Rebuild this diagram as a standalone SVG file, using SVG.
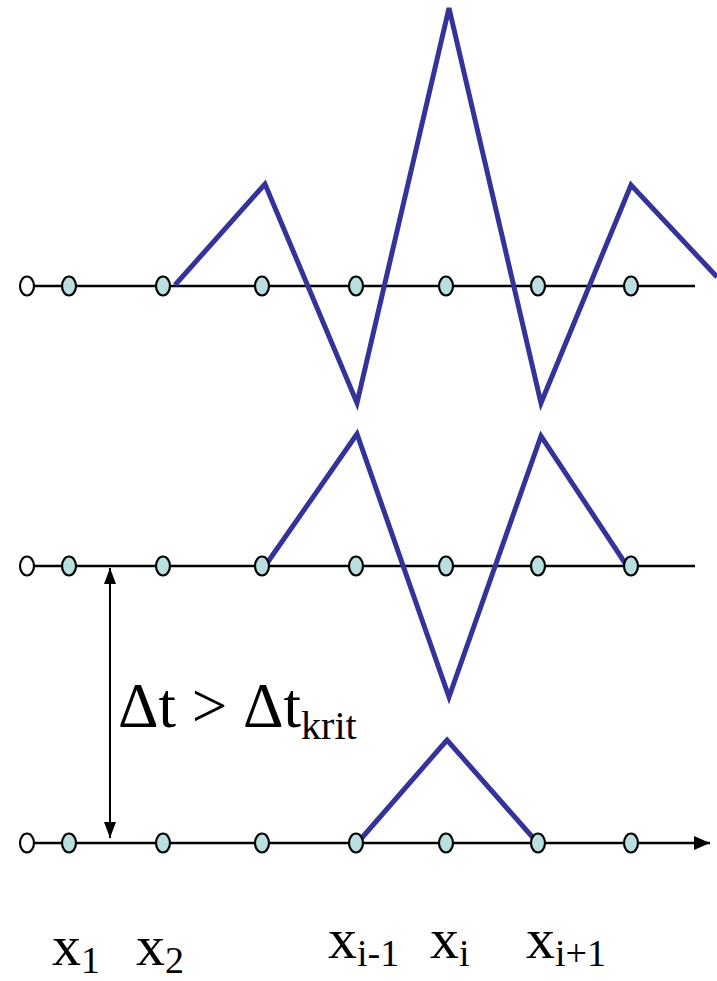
<svg xmlns="http://www.w3.org/2000/svg" width="717" height="981" viewBox="0 0 717 981">
<defs>
<style>
.axis{stroke:#000;stroke-width:2.5;fill:none}
.wave{stroke:#333399;stroke-width:5;fill:none;stroke-linejoin:miter}
.pt{fill:#b9dfe0;stroke:#000;stroke-width:2.2}
.pt0{fill:#fff;stroke:#000;stroke-width:2.2}
.serif{font-family:"Liberation Serif","Times New Roman",serif;fill:#000}
</style>
<marker id="ah" viewBox="0 0 16 12" refX="16" refY="6" markerWidth="16" markerHeight="12" markerUnits="userSpaceOnUse" orient="auto-start-reverse">
<path d="M0,0 L16,6 L0,12 z" fill="#000"/>
</marker>
<marker id="ahb" viewBox="0 0 16 14" refX="16" refY="7" markerWidth="16" markerHeight="14" markerUnits="userSpaceOnUse" orient="auto">
<path d="M0,0 L16,7 L0,14 z" fill="#000"/>
</marker>
</defs>
<g id="connectors">
<line class="axis" x1="27" y1="286" x2="695" y2="286"/>
<line class="axis" x1="27" y1="566" x2="695" y2="566"/>
<line class="axis" x1="27" y1="843" x2="710" y2="843" marker-end="url(#ahb)"/>
<line x1="110" y1="568" x2="110" y2="838" stroke="#000" stroke-width="2" marker-start="url(#ah)" marker-end="url(#ah)"/>
<polyline class="wave" points="175,285 265,184 357,403 449,8 541,403 631,185 717,277"/>
<polyline class="wave" points="265,566 357,434 449,697 541,436 627,566"/>
<polyline class="wave" points="360,840 447,740 535,840"/>
</g>
<g id="row1">
<ellipse class="pt0" cx="27" cy="286" rx="7" ry="9.5"/>
<ellipse class="pt" cx="69" cy="286" rx="7" ry="9.5"/>
<ellipse class="pt" cx="163" cy="286" rx="7" ry="9.5"/>
<ellipse class="pt" cx="262" cy="286" rx="7" ry="9.5"/>
<ellipse class="pt" cx="356" cy="286" rx="7" ry="9.5"/>
<ellipse class="pt" cx="446" cy="286" rx="7" ry="9.5"/>
<ellipse class="pt" cx="538" cy="286" rx="7" ry="9.5"/>
<ellipse class="pt" cx="631" cy="286" rx="7" ry="9.5"/>
</g>
<g id="row2">
<ellipse class="pt0" cx="27" cy="566" rx="7" ry="9.5"/>
<ellipse class="pt" cx="69" cy="566" rx="7" ry="9.5"/>
<ellipse class="pt" cx="163" cy="566" rx="7" ry="9.5"/>
<ellipse class="pt" cx="262" cy="566" rx="7" ry="9.5"/>
<ellipse class="pt" cx="356" cy="566" rx="7" ry="9.5"/>
<ellipse class="pt" cx="446" cy="566" rx="7" ry="9.5"/>
<ellipse class="pt" cx="538" cy="566" rx="7" ry="9.5"/>
<ellipse class="pt" cx="631" cy="566" rx="7" ry="9.5"/>
</g>
<g id="row3">
<ellipse class="pt0" cx="27" cy="843" rx="7" ry="9.5"/>
<ellipse class="pt" cx="69" cy="843" rx="7" ry="9.5"/>
<ellipse class="pt" cx="163" cy="843" rx="7" ry="9.5"/>
<ellipse class="pt" cx="262" cy="843" rx="7" ry="9.5"/>
<ellipse class="pt" cx="356" cy="843" rx="7" ry="9.5"/>
<ellipse class="pt" cx="446" cy="843" rx="7" ry="9.5"/>
<ellipse class="pt" cx="538" cy="843" rx="7" ry="9.5"/>
<ellipse class="pt" cx="631" cy="843" rx="7" ry="9.5"/>
</g>
<g id="dt-label">
<text class="serif" x="118" y="727" font-size="63">Δt &gt; Δt<tspan font-size="40" dy="12">krit</tspan></text>
</g>
<g id="x-labels">
<text class="serif" x="52" y="965" font-size="58">x<tspan font-size="38" dy="8">1</tspan></text>
<text class="serif" x="136" y="965" font-size="58">x<tspan font-size="38" dy="8">2</tspan></text>
<text class="serif" x="328" y="958" font-size="58">x<tspan font-size="38" dy="8">i-1</tspan></text>
<text class="serif" x="430" y="958" font-size="58">x<tspan font-size="38" dy="8">i</tspan></text>
<text class="serif" x="526" y="958" font-size="58">x<tspan font-size="38" dy="8">i+1</tspan></text>
</g>
</svg>
